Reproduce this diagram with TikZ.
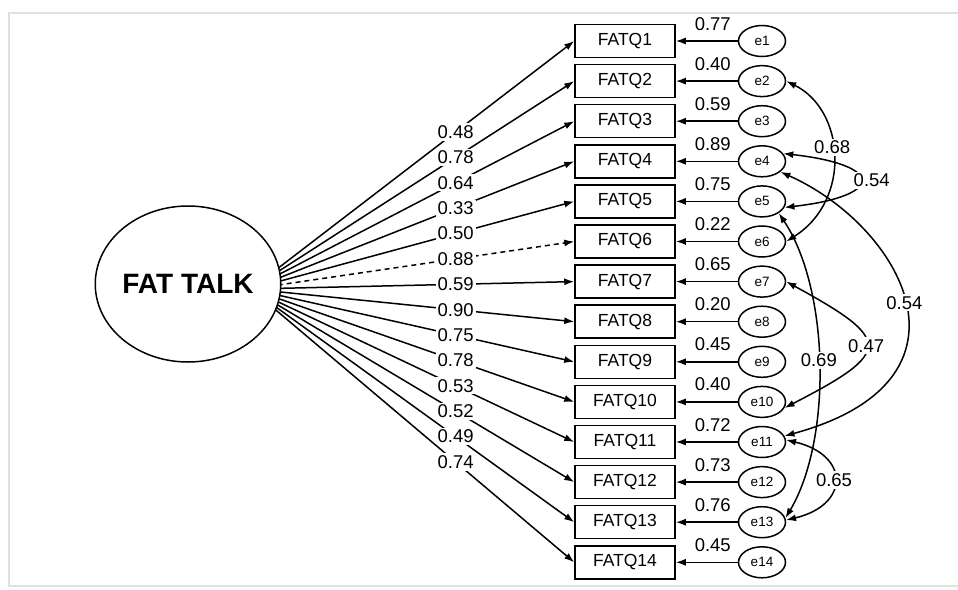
\documentclass[tikz,border=0pt]{standalone}
\usepackage{fontspec}
\setmainfont{Liberation Sans}
\usetikzlibrary{arrows.meta,shapes.geometric}
\begin{document}
\begin{tikzpicture}[x=1pt,y=-1pt,
  framecol/.style={draw=black!12,line width=2pt},
  qbox/.style={draw,line width=1.5pt,minimum width=100pt,minimum height=33pt,inner sep=0pt,font=\fontsize{17.5}{19}\selectfont},
  ebox/.style={draw,ellipse,line width=1.5pt,minimum width=47pt,minimum height=31pt,inner sep=0pt,font=\fontsize{13.5}{15}\selectfont},
  fatbox/.style={draw,ellipse,line width=1.5pt,fill=white,minimum width=178pt,minimum height=156pt,inner sep=0pt,font=\fontsize{28}{30}\selectfont\bfseries},
  tip/.style={-{Latex[length=10pt,width=7pt]}},
  load/.style={tip,line width=1.5pt},
  corr/.style={{Latex[length=10pt,width=7pt]}-{Latex[length=10pt,width=7pt]},line width=1.5pt},
  lab/.style={fill=white,inner sep=2pt,font=\fontsize{18.5}{20}\selectfont},
  elab/.style={inner sep=0pt,font=\fontsize{18.5}{20}\selectfont},
  dashln/.style={dash pattern=on 5pt off 4pt}]
\useasboundingbox (0,0) rectangle (958,589);
\draw[framecol] (958,13) -- (9,13) -- (9,586) -- (958,586);
\foreach \i/\v in {1/0.77,2/0.40,3/0.59,4/0.89,5/0.75,6/0.22,7/0.65,8/0.20,9/0.45,10/0.40,11/0.72,12/0.73,13/0.76,14/0.45}{
  \pgfmathsetmacro\yy{41+(\i-1)*40.1}
  \node[qbox] (q\i) at (625,\yy) {FATQ\i};
  \node[ebox] (e\i) at (762,\yy) {e\i};
  \draw[load] (e\i) -- (q\i) node[elab,midway,above=10pt,xshift=6pt] {\v};
}
\coordinate (hub) at (251,289);
\foreach \i/\l/\s in {1/0.48/solid,2/0.78/solid,3/0.64/solid,4/0.33/solid,5/0.50/solid,6/0.88/dashln,7/0.59/solid,8/0.90/solid,9/0.75/solid,10/0.78/solid,11/0.53/solid,12/0.52/solid,13/0.49/solid,14/0.74/solid}{
  \draw[load,\s] (hub) -- (q\i.west) node[lab,pos=0.633] {\l};
}
\node[fatbox] (fat) at (188,284) {FAT TALK};
% correlations between error terms
\draw[corr] (e2.east) .. controls (845,110) and (852,200) .. (e6.east) node[lab,pos=0.45] {0.68};
\draw[corr] (e4.20) .. controls (885,165) and (885,196) .. (e5.-15) node[lab,midway,xshift=12pt] {0.54};
\draw[corr] (e4.-30) .. controls (900,225) and (990,380) .. (e11.15) node[lab,midway] {0.54};
\draw[corr] (e5.-35) .. controls (830,290) and (832,440) .. (e13.10) node[lab,midway,yshift=5pt] {0.69};
\draw[corr] (e7.east) .. controls (893,340) and (893,352) .. (e10.-15) node[lab,midway] {0.47};
\draw[corr] (e11.5) .. controls (850,455) and (850,505) .. (e13.5) node[lab,midway] {0.65};
\end{tikzpicture}
\end{document}
